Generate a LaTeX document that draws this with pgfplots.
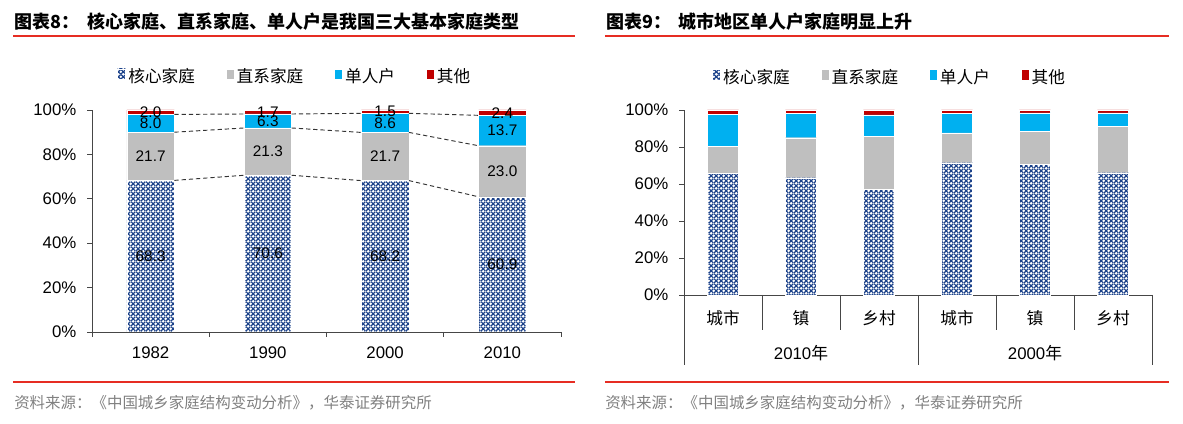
\documentclass[border=0pt]{standalone}
\usepackage{pgfplots}
\pgfplotsset{compat=1.18}
\usepackage{fontspec}
\setmainfont{Liberation Sans}
\newfontfamily\cjk{Noto Sans CJK SC}
\usetikzlibrary{patterns.meta}
\definecolor{nblue}{RGB}{28,66,138}
\definecolor{cgray}{RGB}{191,191,191}
\definecolor{cblue}{RGB}{0,176,240}
\definecolor{cred}{RGB}{192,0,0}
\definecolor{hred}{RGB}{230,45,35}
\definecolor{srcgray}{RGB}{128,128,128}
\definecolor{axgray}{RGB}{70,70,70}
\tikzdeclarepattern{
  name=nucl,
  type=uncolored,
  bounding box={(0pt,0pt) and (3.5pt,3.5pt)},
  tile size={(3.5pt,3.5pt)},
  code={
    \draw[line width=0.95pt] (0pt,0pt) -- (3.5pt,3.5pt) (0pt,3.5pt) -- (3.5pt,0pt);
  }
}
\newcommand\fnum{\fontsize{12.6}{14}\selectfont}
\newcommand\flab{\fontsize{11.5}{13}\selectfont}
\newcommand\fleg{\cjk\fontsize{12.5}{14}\selectfont}
\newcommand\fsrc{\cjk\fontsize{11.6}{13}\selectfont}
\newcommand\ftitle{\cjk\bfseries\fontsize{13.5}{15}\selectfont}
\pgfplotsset{
  nuc/.style={pattern=nucl, pattern color=nblue, draw=white, line width=0.3pt},
  dir/.style={fill=cgray, draw=white, line width=0.3pt},
  sgl/.style={fill=cblue, draw=white, line width=0.3pt},
  oth/.style={fill=cred, draw=white, line width=0.3pt},
  base/.style={
    scale only axis, ymin=0, ymax=100,
    axis x line*=bottom, axis y line*=left,
    axis line style={axgray, line width=0.6pt},
    ytick={0,20,40,60,80,100},
    yticklabels={0\%,20\%,40\%,60\%,80\%,100\%},
    tick align=outside, major tick length=3.75pt,
    ytick style={axgray, line width=0.6pt},
    xtick style={draw=none},
    tick label style={font=\fnum},
    xticklabel style={yshift=-4pt},
    yticklabel style={xshift=-4.5pt},
    legend columns=4,
    legend image code/.code={\fill[##1] (0pt,-3.4pt) rectangle (6.8pt,3.4pt);},
    legend style={draw=none, fill=none, font=\fleg, anchor=center,
      /tikz/every even column/.append style={column sep=21pt}},
  },
  over/.style={scale only axis, ymin=0, ymax=100, hide axis, clip=false},
  dsh/.style={black!80, line width=0.7pt, dash pattern=on 3.2pt off 2.2pt},
  lbl/.style={draw=none, mark=none, nodes near coords, point meta=explicit symbolic,
    nodes near coords style={anchor=center, font=\flab, text=black, inner sep=0pt}},
}
\begin{document}
\begin{tikzpicture}
\begin{scope}[x=0.75pt,y=-0.75pt]
\useasboundingbox (0,0) rectangle (1183,424);
% titles
\node[anchor=west, inner sep=0pt] at (14,22) {\ftitle 图表8：};
\node[anchor=west, inner sep=0pt] at (87,22) {\ftitle 核心家庭、直系家庭、单人户是我国三大基本家庭类型};
\node[anchor=west, inner sep=0pt] at (606,22) {\ftitle 图表9：};
\node[anchor=west, inner sep=0pt] at (678,22) {\ftitle 城市地区单人户家庭明显上升};
\draw[hred, line width=1.2pt] (13,36) -- (575,36);
\draw[hred, line width=1.2pt] (605,36) -- (1169,36);
\draw[hred, line width=1.2pt] (13,382) -- (575,382);
\draw[hred, line width=1.2pt] (605,382) -- (1169,382);
\node[anchor=west, inner sep=0pt, text=srcgray] at (14,403) {\fsrc 资料来源：《中国城乡家庭结构变动分析》，华泰证券研究所};
\node[anchor=west, inner sep=0pt, text=srcgray] at (605,403) {\fsrc 资料来源：《中国城乡家庭结构变动分析》，华泰证券研究所};
% left x boundary ticks
\foreach \xx in {92,209.25,326.5,443.75,561} \draw[axgray, line width=0.6pt] (\xx,332) -- (\xx,337);
% right category separators
\foreach \xx in {762,840,996,1074} \draw[axgray, line width=0.6pt] (\xx,295) -- (\xx,330);
\foreach \xx in {684,918,1152} \draw[axgray, line width=0.6pt] (\xx,295) -- (\xx,365);
\node[inner sep=0pt] at (801,353) {\fnum 2010{\cjk 年}};
\node[inner sep=0pt] at (1035,353) {\fnum 2000{\cjk 年}};
\end{scope}

% ---------- left panel ----------
\begin{axis}[base,
  at={(69pt,-249pt)}, anchor=south west,
  width=351.75pt, height=166.5pt,
  ybar stacked, bar width=0.406,
  xmin=-0.5, xmax=3.5,
  xtick={0,1,2,3}, xticklabels={1982,1990,2000,2010},
  legend style={at={(0.433,1.149)}},
]
\addplot[nuc] coordinates {(0,68.3) (1,70.6) (2,68.2) (3,60.9)};
\addplot[dir] coordinates {(0,21.7) (1,21.3) (2,21.7) (3,23.0)};
\addplot[sgl] coordinates {(0,8.0) (1,6.3) (2,8.6) (3,13.7)};
\addplot[oth] coordinates {(0,2.0) (1,1.7) (2,1.5) (3,2.4)};
\legend{核心家庭,直系家庭,单人户,其他}
\end{axis}
\begin{axis}[over,
  at={(69pt,-249pt)}, anchor=south west,
  width=351.75pt, height=166.5pt,
  xmin=-0.5, xmax=3.5,
]
\addplot[dsh] coordinates {(0.203,68.3) (0.797,70.6)};
\addplot[dsh] coordinates {(1.203,70.6) (1.797,68.2)};
\addplot[dsh] coordinates {(2.203,68.2) (2.797,60.9)};
\addplot[dsh] coordinates {(0.203,90.0) (0.797,91.9)};
\addplot[dsh] coordinates {(1.203,91.9) (1.797,89.9)};
\addplot[dsh] coordinates {(2.203,89.9) (2.797,83.9)};
\addplot[dsh] coordinates {(0.203,98.0) (0.797,98.2)};
\addplot[dsh] coordinates {(1.203,98.2) (1.797,98.5)};
\addplot[dsh] coordinates {(2.203,98.5) (2.797,97.6)};
\addplot[lbl] coordinates {
  (0,34.15) [68.3] (1,35.3) [70.6] (2,34.1) [68.2] (3,30.45) [60.9]
  (0,79.15) [21.7] (1,81.25) [21.3] (2,79.05) [21.7] (3,72.4) [23.0]
  (0,94.0) [8.0] (1,95.05) [6.3] (2,94.2) [8.6] (3,90.75) [13.7]
  (0,99.0) [2.0] (1,99.05) [1.7] (2,99.25) [1.5] (3,98.8) [2.4]
};
\end{axis}

% ---------- right panel ----------
\begin{axis}[base,
  at={(513pt,-221.25pt)}, anchor=south west,
  width=351pt, height=138.75pt,
  ybar stacked, bar width=0.4,
  xmin=-0.5, xmax=5.5,
  xtick={0,1,2,3,4,5}, xticklabels={城市,镇,乡村,城市,镇,乡村},
  xticklabel style={font=\fleg},
  legend style={at={(0.44,1.178)}},
]
\addplot[nuc] coordinates {(0,65.8) (1,63.4) (2,57.1) (3,71.5) (4,70.6) (5,66.1)};
\addplot[dir] coordinates {(0,14.7) (1,21.6) (2,28.5) (3,16.2) (4,17.9) (5,25.1)};
\addplot[sgl] coordinates {(0,17.0) (1,13.0) (2,11.7) (3,10.3) (4,10.0) (5,7.3)};
\addplot[oth] coordinates {(0,2.5) (1,2.0) (2,2.7) (3,2.0) (4,1.5) (5,1.5)};
\legend{核心家庭,直系家庭,单人户,其他}
\end{axis}
\end{tikzpicture}
\end{document}
